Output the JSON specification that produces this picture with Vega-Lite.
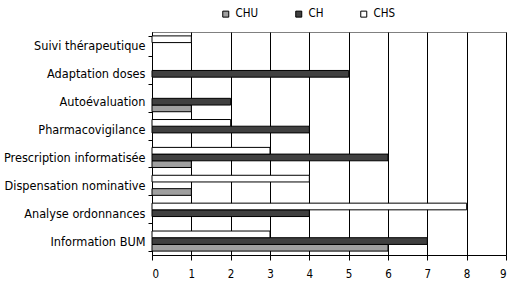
{
  "$schema": "https://vega.github.io/schema/vega-lite/v6.json",
  "autosize": "none",
  "width": 354,
  "height": 223,
  "padding": {"left": 152, "top": 32, "right": 6, "bottom": 29},
  "background": "white",
  "data": {
    "values": [
      {"category": "Suivi thérapeutique", "series": "CHU", "value": 0},
      {"category": "Suivi thérapeutique", "series": "CH", "value": 0},
      {"category": "Suivi thérapeutique", "series": "CHS", "value": 1},
      {"category": "Adaptation doses", "series": "CHU", "value": 0},
      {"category": "Adaptation doses", "series": "CH", "value": 5},
      {"category": "Adaptation doses", "series": "CHS", "value": 0},
      {"category": "Autoévaluation", "series": "CHU", "value": 1},
      {"category": "Autoévaluation", "series": "CH", "value": 2},
      {"category": "Autoévaluation", "series": "CHS", "value": 0},
      {"category": "Pharmacovigilance", "series": "CHU", "value": 0},
      {"category": "Pharmacovigilance", "series": "CH", "value": 4},
      {"category": "Pharmacovigilance", "series": "CHS", "value": 2},
      {"category": "Prescription informatisée", "series": "CHU", "value": 1},
      {"category": "Prescription informatisée", "series": "CH", "value": 6},
      {"category": "Prescription informatisée", "series": "CHS", "value": 3},
      {"category": "Dispensation nominative", "series": "CHU", "value": 1},
      {"category": "Dispensation nominative", "series": "CH", "value": 0},
      {"category": "Dispensation nominative", "series": "CHS", "value": 4},
      {"category": "Analyse ordonnances", "series": "CHU", "value": 0},
      {"category": "Analyse ordonnances", "series": "CH", "value": 4},
      {"category": "Analyse ordonnances", "series": "CHS", "value": 8},
      {"category": "Information BUM", "series": "CHU", "value": 6},
      {"category": "Information BUM", "series": "CH", "value": 7},
      {"category": "Information BUM", "series": "CHS", "value": 3}
    ]
  },
  "transform": [{"filter": "datum.value > 0"}],
  "mark": {"type": "bar", "stroke": "#000000", "strokeWidth": 1},
  "encoding": {
    "x": {
      "field": "value",
      "type": "quantitative",
      "scale": {"domain": [0, 9], "nice": false},
      "axis": {
        "title": null,
        "values": [0, 1, 2, 3, 4, 5, 6, 7, 8, 9],
        "format": "d",
        "grid": true,
        "gridColor": "#000000",
        "gridWidth": 1,
        "domainColor": "#000000",
        "tickColor": "#000000",
        "tickSize": 5,
        "labelPadding": 8,
        "labelFontSize": 11.5,
        "labelFont": "DejaVu Sans Condensed",
        "labelColor": "#000000"
      }
    },
    "y": {
      "field": "category",
      "type": "nominal",
      "sort": ["Suivi thérapeutique", "Adaptation doses", "Autoévaluation", "Pharmacovigilance", "Prescription informatisée", "Dispensation nominative", "Analyse ordonnances", "Information BUM"],
      "scale": {"paddingInner": 0.28, "paddingOuter": 0.14},
      "axis": {
        "title": null,
        "tickBand": "extent",
        "domainColor": "#000000",
        "tickColor": "#000000",
        "tickSize": 4,
        "labelPadding": 3,
        "labelFontSize": 12.6,
        "labelFont": "DejaVu Sans Condensed",
        "labelColor": "#000000",
        "labelLimit": 200
      }
    },
    "yOffset": {
      "field": "series",
      "type": "nominal",
      "sort": ["CHS", "CH", "CHU"],
      "scale": {"domain": ["CHS", "CH", "CHU"], "paddingInner": 0, "paddingOuter": 0}
    },
    "color": {
      "field": "series",
      "type": "nominal",
      "scale": {"domain": ["CHU", "CH", "CHS"], "range": ["#a0a0a0", "#404040", "#ffffff"]},
      "legend": {
        "title": null,
        "orient": "none",
        "direction": "horizontal",
        "legendX": 68,
        "legendY": -24,
        "symbolType": "square",
        "symbolSize": 36,
        "symbolStrokeColor": "#000000",
        "symbolStrokeWidth": 1,
        "labelOffset": 4,
        "columnPadding": 34,
        "labelFontSize": 11.5,
        "labelFont": "DejaVu Sans Condensed",
        "labelColor": "#000000",
        "padding": 0
      }
    }
  },
  "config": {
    "view": {"stroke": "#808080", "strokeWidth": 1}
  }
}
